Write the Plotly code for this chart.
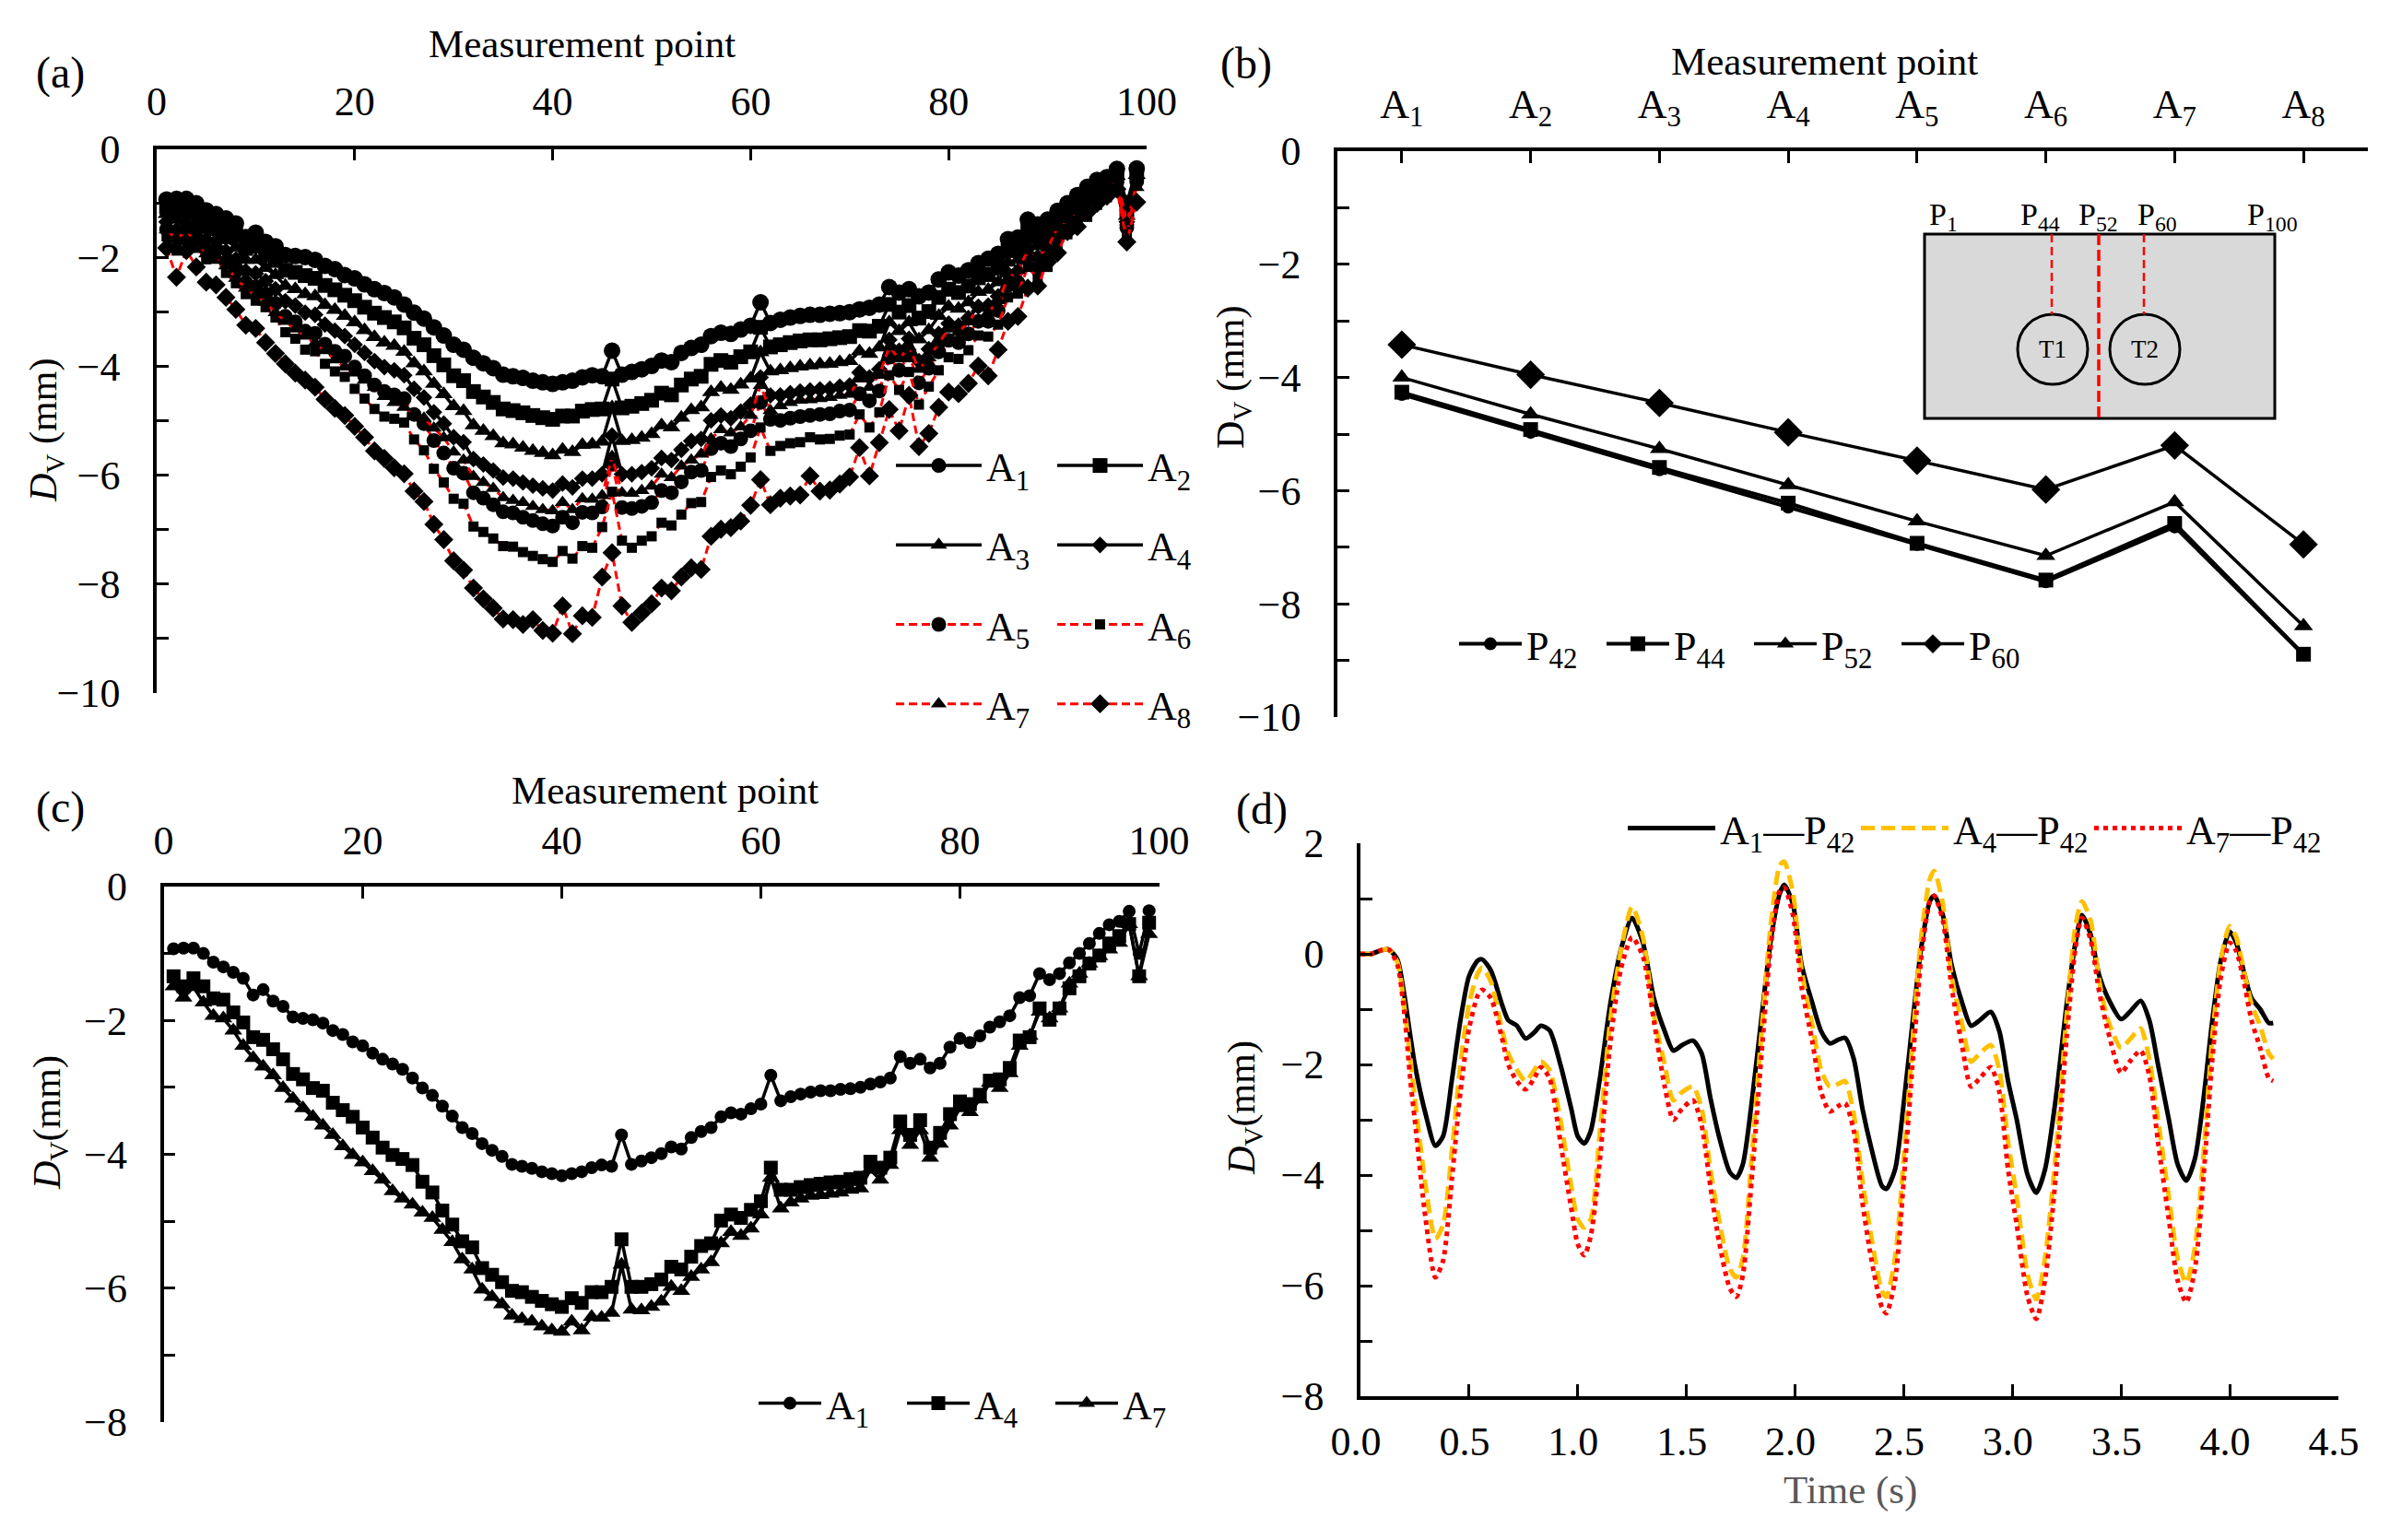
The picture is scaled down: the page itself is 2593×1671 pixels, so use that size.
"""
Vertical deflection of the measurement points, four panels
"""
import plotly.graph_objects as go

W, H = 2593, 1671
BODY = 8  # default page margin that write_html leaves around the plot
FONT = "Liberation Serif"

points = list(range(1, 100))

a1 = [-0.93, -0.92, -0.92, -1.0, -1.13, -1.2, -1.28, -1.37, -1.62, -1.54, -1.71, -1.79, -1.95, -1.97, -1.99, -2.04, -2.15, -2.21, -2.32, -2.38,
      -2.49, -2.58, -2.65, -2.73, -2.86, -3.01, -3.12, -3.28, -3.43, -3.6, -3.69, -3.84, -3.94, -4.03, -4.15, -4.18, -4.21, -4.26, -4.29, -4.32,
      -4.29, -4.26, -4.2, -4.16, -4.18, -3.71, -4.15, -4.1, -4.05, -3.99, -3.89, -3.92, -3.75, -3.66, -3.6, -3.44, -3.38, -3.4, -3.32, -3.25,
      -2.82, -3.2, -3.14, -3.1, -3.07, -3.05, -3.05, -3.03, -3.02, -3.0, -2.95, -2.92, -2.86, -2.54, -2.64, -2.58, -2.71, -2.64, -2.4, -2.27,
      -2.33, -2.23, -2.1, -2.02, -1.93, -1.66, -1.63, -1.3, -1.39, -1.3, -1.14, -1.0, -0.85, -0.7, -0.57, -0.52, -0.37, -1.0, -0.36]
a2 = [-1.07, -1.11, -1.07, -1.16, -1.31, -1.36, -1.48, -1.59, -1.83, -1.79, -1.95, -2.05, -2.23, -2.27, -2.33, -2.38, -2.51, -2.59, -2.69, -2.79,
      -2.91, -3.02, -3.1, -3.18, -3.29, -3.48, -3.6, -3.8, -3.97, -4.17, -4.26, -4.46, -4.56, -4.66, -4.78, -4.81, -4.85, -4.9, -4.94, -4.97,
      -4.91, -4.91, -4.82, -4.79, -4.78, -4.23, -4.76, -4.73, -4.68, -4.62, -4.49, -4.52, -4.34, -4.23, -4.18, -3.96, -3.89, -3.92, -3.82, -3.73,
      -3.28, -3.64, -3.6, -3.56, -3.53, -3.51, -3.51, -3.49, -3.47, -3.45, -3.34, -3.35, -3.26, -2.86, -3.0, -2.88, -3.11, -2.99, -2.73, -2.58,
      -2.64, -2.52, -2.37, -2.31, -2.19, -1.87, -1.84, -1.47, -1.59, -1.47, -1.27, -1.11, -0.95, -0.81, -0.66, -0.59, -0.43, -1.12, -0.42]
a3 = [-1.2, -1.3, -1.22, -1.33, -1.49, -1.53, -1.68, -1.81, -2.04, -2.04, -2.19, -2.32, -2.52, -2.58, -2.67, -2.71, -2.87, -2.96, -3.07, -3.19,
      -3.33, -3.46, -3.56, -3.62, -3.73, -3.94, -4.09, -4.32, -4.51, -4.73, -4.82, -5.08, -5.18, -5.28, -5.41, -5.43, -5.49, -5.55, -5.59, -5.63,
      -5.53, -5.57, -5.44, -5.43, -5.38, -4.75, -5.37, -5.35, -5.31, -5.24, -5.08, -5.12, -4.94, -4.8, -4.75, -4.47, -4.39, -4.43, -4.33, -4.22,
      -3.74, -4.09, -4.07, -4.03, -4.0, -3.98, -3.96, -3.95, -3.92, -3.9, -3.72, -3.77, -3.65, -3.19, -3.35, -3.19, -3.5, -3.33, -3.07, -2.9,
      -2.94, -2.82, -2.63, -2.59, -2.45, -2.09, -2.04, -1.65, -1.79, -1.65, -1.39, -1.23, -1.05, -0.92, -0.76, -0.67, -0.5, -1.23, -0.48]
a4 = [-1.34, -1.49, -1.37, -1.49, -1.67, -1.69, -1.88, -2.03, -2.25, -2.29, -2.43, -2.58, -2.8, -2.88, -3.01, -3.05, -3.23, -3.34, -3.44, -3.6,
      -3.75, -3.9, -4.01, -4.07, -4.16, -4.41, -4.57, -4.84, -5.05, -5.3, -5.39, -5.7, -5.8, -5.91, -6.04, -6.06, -6.13, -6.19, -6.24, -6.28,
      -6.15, -6.22, -6.06, -6.06, -5.98, -5.27, -5.98, -5.98, -5.94, -5.87, -5.68, -5.72, -5.53, -5.37, -5.33, -4.99, -4.9, -4.95, -4.83, -4.7,
      -4.2, -4.53, -4.53, -4.49, -4.46, -4.44, -4.42, -4.41, -4.37, -4.35, -4.11, -4.2, -4.05, -3.51, -3.71, -3.49, -3.9, -3.68, -3.4, -3.21,
      -3.25, -3.11, -2.9, -2.88, -2.71, -2.3, -2.25, -1.82, -1.99, -1.82, -1.52, -1.34, -1.15, -1.03, -0.85, -0.74, -0.56, -1.34, -0.54]
a5 = [-1.48, -1.68, -1.52, -1.65, -1.85, -1.85, -2.08, -2.25, -2.46, -2.54, -2.67, -2.84, -3.08, -3.18, -3.35, -3.39, -3.59, -3.72, -3.81, -4.01,
      -4.17, -4.34, -4.46, -4.52, -4.59, -4.88, -5.05, -5.36, -5.59, -5.87, -5.96, -6.32, -6.42, -6.54, -6.67, -6.69, -6.77, -6.83, -6.89, -6.93,
      -6.77, -6.87, -6.68, -6.69, -6.58, -5.79, -6.59, -6.61, -6.57, -6.5, -6.28, -6.32, -6.12, -5.94, -5.91, -5.51, -5.41, -5.47, -5.33, -5.18,
      -4.66, -4.97, -4.99, -4.95, -4.92, -4.9, -4.88, -4.87, -4.82, -4.8, -4.5, -4.63, -4.45, -3.83, -4.07, -3.79, -4.3, -4.03, -3.73, -3.52,
      -3.56, -3.4, -3.17, -3.17, -2.97, -2.51, -2.46, -1.99, -2.19, -1.99, -1.65, -1.45, -1.25, -1.14, -0.94, -0.81, -0.62, -1.45, -0.6]
a6 = [-1.61, -1.87, -1.67, -1.82, -2.03, -2.02, -2.28, -2.47, -2.67, -2.79, -2.91, -3.1, -3.37, -3.49, -3.69, -3.72, -3.95, -4.09, -4.19, -4.41,
      -4.59, -4.78, -4.92, -4.96, -5.03, -5.34, -5.54, -5.88, -6.13, -6.43, -6.52, -6.94, -7.04, -7.16, -7.3, -7.31, -7.41, -7.48, -7.54, -7.59,
      -7.39, -7.53, -7.3, -7.33, -6.95, -6.3, -7.2, -7.33, -7.2, -7.12, -6.87, -6.92, -6.72, -6.51, -6.49, -6.03, -5.91, -5.98, -5.84, -5.67,
      -5.12, -5.55, -5.46, -5.41, -5.39, -5.3, -5.34, -5.33, -5.27, -5.25, -4.88, -5.12, -4.84, -4.16, -4.43, -4.1, -4.7, -4.37, -4.07, -3.83,
      -3.86, -3.7, -3.43, -3.45, -3.23, -2.73, -2.66, -2.17, -2.39, -2.17, -1.77, -1.57, -1.35, -1.25, -1.03, -0.89, -0.69, -1.57, -0.66]
a7 = [-1.49, -1.66, -1.5, -1.73, -1.93, -1.97, -2.15, -2.38, -2.56, -2.69, -2.82, -3.01, -3.17, -3.31, -3.44, -3.57, -3.71, -3.88, -4.01, -4.12,
      -4.25, -4.38, -4.55, -4.66, -4.75, -4.87, -4.95, -5.13, -5.31, -5.57, -5.72, -6.02, -6.13, -6.24, -6.41, -6.46, -6.5, -6.57, -6.63, -6.65,
      -6.5, -6.63, -6.43, -6.44, -6.37, -5.65, -6.32, -6.33, -6.28, -6.2, -5.98, -6.04, -5.83, -5.72, -5.61, -5.33, -5.16, -5.22, -5.11, -4.9,
      -4.35, -4.81, -4.72, -4.66, -4.62, -4.61, -4.59, -4.57, -4.53, -4.51, -4.23, -4.38, -4.16, -3.64, -3.86, -3.64, -4.05, -3.84, -3.57, -3.31,
      -3.37, -3.18, -2.93, -3.01, -2.79, -2.38, -2.23, -1.87, -1.97, -1.82, -1.45, -1.3, -1.15, -1.04, -0.94, -0.84, -0.56, -1.34, -0.71]
a8 = [-1.82, -2.36, -1.87, -2.17, -2.45, -2.5, -2.73, -2.95, -3.24, -3.3, -3.56, -3.76, -3.95, -4.12, -4.25, -4.38, -4.6, -4.77, -4.9, -5.1,
      -5.3, -5.55, -5.69, -5.86, -5.97, -6.29, -6.48, -6.9, -7.18, -7.57, -7.74, -8.07, -8.27, -8.44, -8.64, -8.65, -8.74, -8.65, -8.85, -8.9,
      -8.4, -8.91, -8.58, -8.61, -7.87, -7.42, -8.4, -8.7, -8.53, -8.36, -8.07, -8.12, -7.87, -7.7, -7.73, -7.12, -6.99, -6.96, -6.84, -6.55,
      -6.08, -6.54, -6.42, -6.38, -6.36, -6.01, -6.29, -6.27, -6.16, -6.03, -5.49, -6.01, -5.4, -4.79, -5.18, -4.53, -5.47, -5.23, -4.75, -4.47,
      -4.5, -4.31, -3.99, -4.17, -3.69, -3.17, -3.08, -2.56, -2.52, -2.08, -1.91, -1.52, -1.43, -1.17, -1.0, -0.87, -0.74, -1.71, -0.98]

stations = ["A<sub>1</sub>", "A<sub>2</sub>", "A<sub>3</sub>", "A<sub>4</sub>",
            "A<sub>5</sub>", "A<sub>6</sub>", "A<sub>7</sub>", "A<sub>8</sub>"]
p42 = [-4.3, -4.97, -5.63, -6.29, -6.95, -7.61, -6.64, -8.9]
p44 = [-4.26, -4.92, -5.59, -6.22, -6.93, -7.58, -6.58, -8.89]
p52 = [-4.0, -4.65, -5.26, -5.9, -6.54, -7.15, -6.2, -8.39]
p60 = [-3.42, -3.95, -4.45, -4.97, -5.47, -5.98, -5.2, -6.95]

time_s = [0, 0.05, 0.1, 0.13, 0.17, 0.2, 0.23, 0.25, 0.3, 0.345, 0.38, 0.42, 0.46, 0.5, 0.54, 0.56, 0.6, 0.65, 0.68, 0.72,
          0.76, 0.8, 0.83, 0.87, 0.92, 0.97, 1.0, 1.03, 1.06, 1.1, 1.15, 1.2, 1.25, 1.3, 1.35, 1.4, 1.44, 1.48, 1.53, 1.57,
          1.61, 1.65, 1.7, 1.73, 1.76, 1.8, 1.85, 1.89, 1.93, 1.95, 1.99, 2.03, 2.08, 2.12, 2.16, 2.2, 2.23, 2.27, 2.31, 2.35,
          2.4, 2.42, 2.46, 2.5, 2.55, 2.58, 2.62, 2.64, 2.68, 2.72, 2.77, 2.81, 2.85, 2.9, 2.94, 2.98, 3.02, 3.07, 3.11, 3.15,
          3.2, 3.25, 3.29, 3.32, 3.36, 3.4, 3.44, 3.5, 3.54, 3.59, 3.63, 3.67, 3.72, 3.76, 3.8, 3.84, 3.88, 3.92, 3.96, 4.0,
          4.03, 4.07, 4.1, 4.14, 4.18, 4.2]
a1_p42 = [0, 0, 0.07, 0.08, -0.1, -0.7, -1.5, -2.0, -2.9, -3.47, -3.3, -2.3, -1.2, -0.4, -0.12, -0.1, -0.3, -0.9, -1.2, -1.3,
          -1.53, -1.42, -1.3, -1.38, -2.0, -2.8, -3.3, -3.43, -3.2, -2.3, -0.9, 0.1, 0.65, 0.2, -0.8, -1.4, -1.75, -1.65, -1.57, -1.8,
          -2.6, -3.3, -3.95, -4.05, -3.8, -2.7, -1.0, 0.3, 1.1, 1.25, 0.9, -0.2, -0.9, -1.4, -1.62, -1.55, -1.52, -1.9, -2.8, -3.5,
          -4.2, -4.25, -3.9, -2.7, -0.9, 0.1, 0.95, 1.05, 0.7, -0.2, -0.9, -1.3, -1.2, -1.05, -1.4, -2.3, -3.0, -4.0, -4.32, -3.9,
          -2.6, -0.9, 0.2, 0.7, 0.35, -0.4, -0.8, -1.18, -1.05, -0.85, -1.2, -2.0, -3.0, -3.8, -4.1, -3.7, -2.6, -1.2, -0.1, 0.4,
          0.2, -0.4, -0.8, -1.0, -1.25, -1.25]
a4_p42 = [0, 0, 0.07, 0.08, -0.15, -0.9, -1.9, -2.6, -4.2, -5.15, -4.9, -3.6, -2.0, -0.9, -0.35, -0.25, -0.5, -1.35, -1.8, -2.1,
          -2.3, -2.1, -1.95, -2.1, -3.0, -4.2, -4.8, -4.95, -4.8, -3.3, -1.2, 0.1, 0.85, 0.3, -1.1, -2.0, -2.65, -2.5, -2.4, -2.8,
          -3.9, -4.8, -5.7, -5.85, -5.5, -3.7, -1.2, 0.6, 1.6, 1.67, 1.1, -0.3, -1.3, -2.1, -2.4, -2.35, -2.3, -2.9, -4.1, -5.1,
          -6.1, -6.2, -5.5, -3.7, -1.1, 0.3, 1.35, 1.5, 0.9, -0.4, -1.3, -1.95, -1.8, -1.65, -2.1, -3.4, -4.4, -5.8, -6.25, -5.5,
          -3.6, -1.1, 0.5, 0.95, 0.6, -0.5, -1.2, -1.7, -1.55, -1.35, -1.9, -3.0, -4.4, -5.5, -5.95, -5.3, -3.6, -1.5, -0.1, 0.5,
          0.3, -0.4, -0.9, -1.3, -1.8, -1.9]
a7_p42 = [0, 0, 0.07, 0.08, -0.2, -1.0, -2.3, -3.0, -4.8, -5.85, -5.55, -4.1, -2.5, -1.35, -0.75, -0.65, -0.8, -1.5, -2.0, -2.3,
          -2.45, -2.25, -2.05, -2.25, -3.4, -4.6, -5.25, -5.45, -5.1, -3.8, -1.6, -0.25, 0.3, -0.05, -1.2, -2.4, -3.0, -2.8, -2.65, -3.1,
          -4.2, -5.2, -6.05, -6.2, -5.8, -4.1, -1.6, 0.2, 1.15, 1.2, 0.7, -0.6, -1.6, -2.5, -2.85, -2.75, -2.7, -3.2, -4.5, -5.5,
          -6.4, -6.5, -5.9, -4.1, -1.5, -0.1, 0.95, 1.05, 0.6, -0.6, -1.7, -2.4, -2.25, -2.05, -2.5, -3.9, -4.9, -6.2, -6.6, -5.9,
          -4.0, -1.5, 0.1, 0.65, 0.25, -0.7, -1.4, -2.15, -1.95, -1.75, -2.2, -3.4, -4.8, -5.9, -6.3, -5.7, -4.0, -1.9, -0.4, 0.2,
          0.05, -0.6, -1.2, -1.7, -2.25, -2.3]


def px(x):
    return (x - BODY) / W


def py(y):
    return 1 - (y - BODY) / H


def axis_style(**kw):
    style = dict(showline=True, linecolor="black", linewidth=3.5, showgrid=False, zeroline=False, automargin=False,
                 ticks="inside", ticklen=13, tickwidth=3, tickcolor="black", mirror=False,
                 tickfont=dict(family=FONT, size=44, color="black"))
    style.update(kw)
    return style


MINOR = dict(dtick=1, ticks="inside", ticklen=13, tickwidth=3, tickcolor="black")


def label(text, x, y, size=43, color="black", angle=0):
    return dict(text=text, x=px(x), y=py(y), xref="paper", yref="paper", showarrow=False,
                xanchor="center", yanchor="middle", textangle=angle,
                font=dict(family=FONT, size=size, color=color))


def add_curve(x, y, name, xa, ya, legend, symbol, msize, color="black", dash="solid", width=3.5):
    fig.add_trace(go.Scatter(x=x, y=y, name=name, mode="lines+markers", xaxis=xa, yaxis=ya, legend=legend,
                             legendgroup=legend + name, cliponaxis=False,
                             line=dict(color=color, width=width, dash=dash),
                             marker=dict(symbol=symbol, size=msize, color="black")))


fig = go.Figure()

# (a) all stations
add_curve(points, a1, stations[0], "x", "y", "legend", "circle", 18)
add_curve(points, a2, stations[1], "x", "y", "legend2", "square", 16)
add_curve(points, a3, stations[2], "x", "y", "legend", "triangle-up", 17)
add_curve(points, a4, stations[3], "x", "y", "legend2", "diamond", 14)
add_curve(points, a5, stations[4], "x", "y", "legend", "circle", 16, "red", "9px,5px", 3)
add_curve(points, a6, stations[5], "x", "y", "legend2", "square", 11, "red", "9px,5px", 3)
add_curve(points, a7, stations[6], "x", "y", "legend", "triangle-up", 15, "red", "9px,5px", 3)
add_curve(points, a8, stations[7], "x", "y", "legend2", "diamond", 16, "red", "9px,5px", 3)

# (b) four points along the stations
add_curve(stations, p42, "P<sub>42</sub>", "x2", "y2", "legend3", "circle", 14, width=4)
add_curve(stations, p44, "P<sub>44</sub>", "x2", "y2", "legend3", "square", 16, width=4)
add_curve(stations, p52, "P<sub>52</sub>", "x2", "y2", "legend3", "triangle-up", 18)
add_curve(stations, p60, "P<sub>60</sub>", "x2", "y2", "legend3", "diamond", 24)

# (c) three stations
add_curve(points, a1, stations[0], "x3", "y3", "legend4", "circle", 14)
add_curve(points, a4, stations[3], "x3", "y3", "legend4", "square", 15)
add_curve(points, a7, stations[6], "x3", "y3", "legend4", "triangle-up", 17)

# (d) time history
for values, name, color, dash, lw in [(a1_p42, "A<sub>1</sub>—P<sub>42</sub>", "black", "solid", 5),
                                      (a4_p42, "A<sub>4</sub>—P<sub>42</sub>", "#FFC000", "15px,7px", 5),
                                      (a7_p42, "A<sub>7</sub>—P<sub>42</sub>", "#FF0000", "5px,5px", 5)]:
    fig.add_trace(go.Scatter(x=time_s, y=values, name=name, mode="lines", xaxis="x4", yaxis="y4", legend="legend5",
                             line=dict(color=color, width=lw, dash=dash, shape="spline", smoothing=0.7)))

fig.update_layout(
    width=W, height=H, margin=dict(l=0, r=0, t=0, b=0), paper_bgcolor="white", plot_bgcolor="rgba(0,0,0,0)",
    font=dict(family=FONT, size=44, color="black"),
    xaxis=axis_style(domain=[px(170), px(1244)], anchor="y", side="top", range=[0, 100], dtick=20, tick0=0, ticklabelstandoff=15),
    yaxis=axis_style(domain=[py(752), py(161.5)], anchor="x", range=[-10, 0], dtick=2, ticklabelstandoff=27, minor=MINOR),
    xaxis2=axis_style(domain=[px(1451), px(2569)], anchor="y2", side="top", type="category", categoryorder="array",
                      categoryarray=stations, range=[-0.5, 7.5], ticklabelstandoff=15),
    yaxis2=axis_style(domain=[py(778), py(164)], anchor="x2", range=[-10, 0], dtick=2, ticklabelstandoff=27, minor=MINOR),
    xaxis3=axis_style(domain=[px(177.5), px(1257.5)], anchor="y3", side="top", range=[0, 100], dtick=20, tick0=0, ticklabelstandoff=14),
    yaxis3=axis_style(domain=[py(1543), py(962)], anchor="x3", range=[-8, 0], dtick=2, ticklabelstandoff=27, minor=MINOR),
    xaxis4=axis_style(domain=[px(1476), px(2537)], anchor="y4", side="bottom", range=[0, 4.5], dtick=0.5, tick0=0,
                      tickformat=".1f", ticklabelstandoff=7, ticklabelshift=-5),
    yaxis4=axis_style(domain=[py(1515), py(915)], anchor="x4", range=[-8, 2], dtick=2, ticklabelstandoff=27, minor=MINOR),
    legend=dict(x=px(967), y=py(470), xanchor="left", yanchor="top", bgcolor="rgba(0,0,0,0)", itemwidth=93,
                tracegroupgap=26, font=dict(family=FONT, size=44)),
    legend2=dict(x=px(1142), y=py(470), xanchor="left", yanchor="top", bgcolor="rgba(0,0,0,0)", itemwidth=93,
                 tracegroupgap=26, font=dict(family=FONT, size=44)),
    legend3=dict(x=px(1578), y=py(699), xanchor="left", yanchor="middle", orientation="h", bgcolor="rgba(0,0,0,0)",
                 itemwidth=68, entrywidth=77, entrywidthmode="pixels", font=dict(family=FONT, size=44)),
    legend4=dict(x=px(818), y=py(1523), xanchor="left", yanchor="middle", orientation="h", bgcolor="rgba(0,0,0,0)",
                 itemwidth=68, entrywidth=78, entrywidthmode="pixels", font=dict(family=FONT, size=44)),
    legend5=dict(x=px(1761), y=py(899), xanchor="left", yanchor="middle", orientation="h", bgcolor="rgba(0,0,0,0)",
                 itemwidth=95, entrywidth=143, entrywidthmode="pixels", font=dict(family=FONT, size=44)),
    annotations=[
        label("(a)", 65, 79, 48), label("(b)", 1352, 69, 48), label("(c)", 65, 876, 48), label("(d)", 1369, 878, 48),
        label("Measurement point", 631, 47), label("Measurement point", 1979, 67), label("Measurement point", 721, 857),
        label("Time (s)", 2007, 1617, 43, "#595959"),
        label("<i>D</i><sub>V</sub> (mm)", 50, 467, 42, angle=-90),
        label("D<sub>V</sub> (mm)", 1338, 410, 42, angle=-90),
        label("<i>D</i><sub>V</sub>(mm)", 54, 1218, 42, angle=-90),
        label("<i>D</i><sub>V</sub>(mm)", 1350, 1202, 42, angle=-90),
        # inset labels
        label("P<sub>1</sub>", 2108, 235, 34), label("P<sub>44</sub>", 2213, 235, 34), label("P<sub>52</sub>", 2276, 235, 34),
        label("P<sub>60</sub>", 2340, 235, 34), label("P<sub>100</sub>", 2465, 235, 34),
        label("T1", 2227, 379, 27), label("T2", 2327, 379, 27),
    ],
    shapes=[
        dict(type="rect", xref="paper", yref="paper", x0=px(2088), x1=px(2468), y0=py(254), y1=py(454),
             fillcolor="#D9D9D9", line=dict(color="black", width=3), layer="below"),
        dict(type="circle", xref="paper", yref="paper", x0=px(2189), x1=px(2265), y0=py(341), y1=py(417),
             line=dict(color="black", width=3), layer="below"),
        dict(type="circle", xref="paper", yref="paper", x0=px(2289), x1=px(2365), y0=py(341), y1=py(417),
             line=dict(color="black", width=3), layer="below"),
        dict(type="line", xref="paper", yref="paper", x0=px(2226), x1=px(2226), y0=py(254), y1=py(341),
             line=dict(color="red", width=2.5, dash="9px,5px"), layer="below"),
        dict(type="line", xref="paper", yref="paper", x0=px(2277), x1=px(2277), y0=py(254), y1=py(454),
             line=dict(color="red", width=3.5, dash="12px,5px"), layer="below"),
        dict(type="line", xref="paper", yref="paper", x0=px(2326), x1=px(2326), y0=py(254), y1=py(341),
             line=dict(color="red", width=2.5, dash="9px,5px"), layer="below"),
    ],
)

fig.write_html("out.html")
